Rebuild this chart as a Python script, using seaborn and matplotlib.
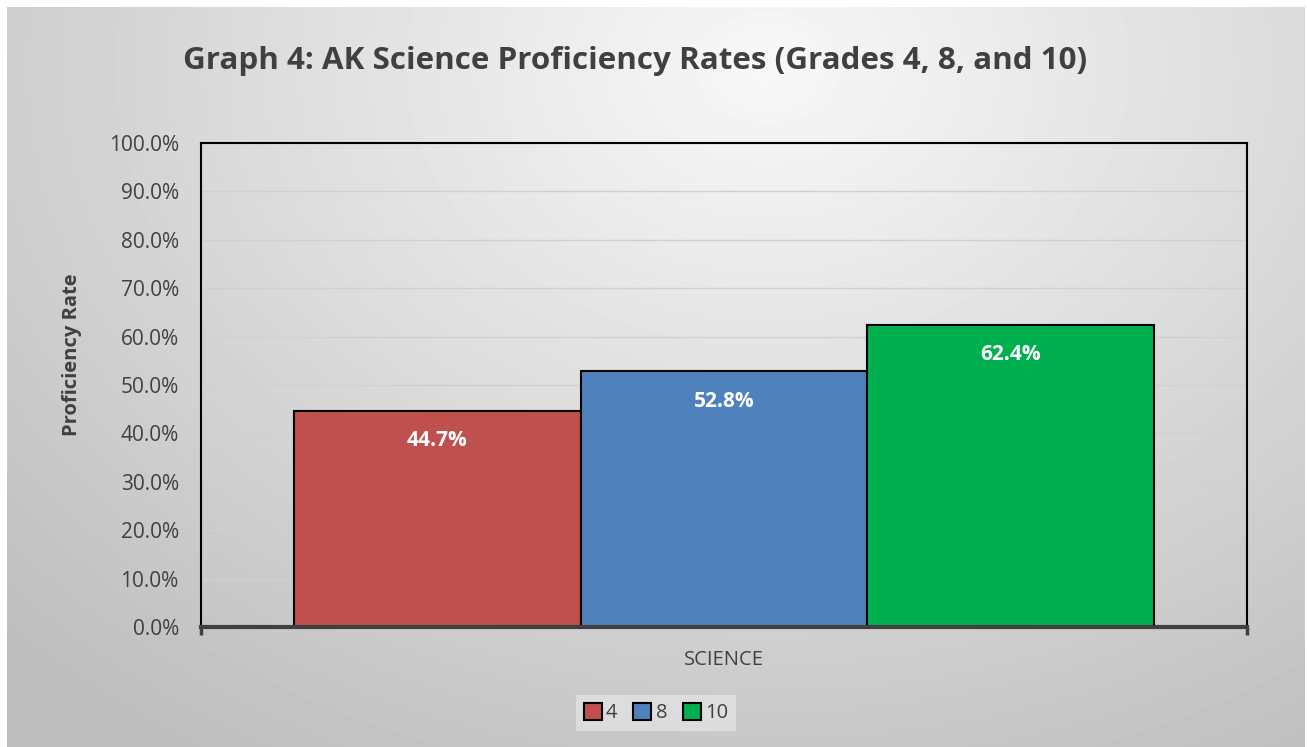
import numpy as np
import pandas as pd
import seaborn as sns
import matplotlib.pyplot as plt
from matplotlib.ticker import FuncFormatter

# data
subjects = ["SCIENCE", "SCIENCE", "SCIENCE"]
grades = ["4", "8", "10"]
rates = [44.7, 52.8, 62.4]
colors = ["#C0504D", "#4F81BD", "#00B050"]

df = pd.DataFrame({"subject": subjects, "grade": grades, "rate": rates})

sns.set_theme(style="white")
plt.rcParams['font.family'] = ['Open Sans', 'DejaVu Sans']
text_col = "#404040"

fig = plt.figure(figsize=(13.07, 7.47), dpi=100, facecolor="white")

# gradient background of the chart area
bg = fig.add_axes([7 / 1307, 0, 1298 / 1307, 740 / 747], zorder=-10)
yy, xx = np.mgrid[0:740, 0:1298]
dist = np.sqrt(((xx - 760) / 1.0) ** 2 + ((yy - 60) * 1.3) ** 2)
shade = np.clip(248 - dist * 0.055, 190, 250) / 255.0
bg.imshow(shade, cmap="gray", vmin=0, vmax=1, aspect="auto")
bg.set_axis_off()

ax = fig.add_axes([201 / 1307, 1 - 627 / 747, 1046 / 1307, 484 / 747])
ax.set_facecolor("none")

sns.barplot(data=df, x="subject", y="rate", hue="grade", palette=colors,
            width=0.822, edgecolor="black", linewidth=1.5, saturation=1,
            ax=ax, zorder=3)

for c in ax.containers:
    ax.bar_label(c, fmt="%.1f%%", padding=-29, color="white",
                 fontsize=15, fontweight="bold")

ax.set_xlim(-0.5, 0.5)
ax.set_ylim(0, 100)
ax.set_yticks(np.arange(0, 101, 10))
ax.yaxis.set_major_formatter(FuncFormatter(lambda v, p: f"{v:.1f}%"))
ax.grid(axis="y", color="#d0d0d0", linewidth=1, zorder=0)
ax.set_axisbelow(True)

ax.tick_params(axis="y", length=0, pad=16, labelsize=15, labelcolor=text_col)
ax.tick_params(axis="x", which="major", length=0, pad=16.5, labelsize=14.5,
               labelcolor=text_col)
ax.set_xticks([-0.5, 0.5], minor=True)
ax.tick_params(axis="x", which="minor", length=6, width=2.5, color=text_col,
               direction="out")
ax.xaxis.set_ticks_position("bottom")

for s in ["left", "top", "right"]:
    ax.spines[s].set_color("black")
    ax.spines[s].set_linewidth(1.5)
ax.spines["bottom"].set_color(text_col)
ax.spines["bottom"].set_linewidth(3)
ax.spines["bottom"].set_zorder(5)

ax.set_xlabel("")
ax.set_ylabel("Proficiency Rate", fontsize=14.5, fontweight="bold",
              color=text_col)
ax.yaxis.set_label_coords(-0.1135, 0.562)

fig.text(0.486, 1 - 61 / 747, "Graph 4: AK Science Proficiency Rates (Grades 4, 8, and 10)",
         ha="center", va="center", fontsize=22.6, fontweight="bold", color=text_col)

handles, labels = ax.get_legend_handles_labels()
ax.get_legend().remove()
fig.legend(handles, labels, loc="center", bbox_to_anchor=(656 / 1307, 1 - 713 / 747),
           ncol=3, frameon=True, facecolor="#e2e2e2", edgecolor="none",
           fancybox=False, fontsize=14.5, handlelength=0.9, handleheight=0.9,
           handletextpad=0.2, columnspacing=0.8, labelcolor=text_col)

fig.savefig("out.png", dpi=100)
